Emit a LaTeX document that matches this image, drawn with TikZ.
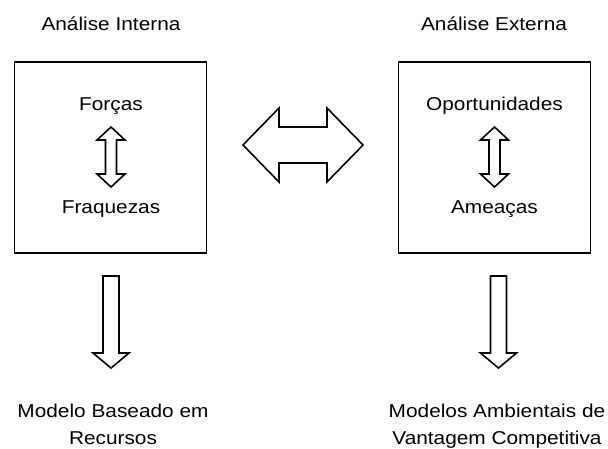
\documentclass[tikz,border=0pt]{standalone}
\usepackage{fontspec}
\setmainfont{Liberation Sans}[FakeStretch=1.12]
\usetikzlibrary{positioning}
\tikzset{
every node/.style={font=\fontsize{18.6}{27}\selectfont, inner sep=0pt}, % text size of all labels
box/.style={draw, line width=1.8pt, minimum width=192pt, minimum height=191pt}, % the two analysis boxes
lbl/.style={anchor=base, align=center}, % labels are placed by their (last) baseline
blockarrow/.style={draw, line width=1.6pt, line join=miter}, % hollow block arrows
}

\begin{document}
\begin{tikzpicture}[x=1pt, y=-1pt]
    \useasboundingbox (0,0) rectangle (608,448);

    \node[box] (interna) at (110.5,157.5) {};
    \node[box] (externa) at (494.5,157.5) {};

    \node[lbl] (tituloI) at (111,30) {Análise Interna};
    \node[lbl] (tituloE) at (494,30) {Análise Externa};

    \node[lbl] (forcas) at (111,110) {Forças};
    \node[lbl] (fraquezas) at (111,213.5) {Fraquezas};
    \node[lbl] (oportunidades) at (494.5,110) {Oportunidades};
    \node[lbl] (ameacas) at (494.5,213.5) {Ameaças};

    \node[lbl] (recursos) at (113,444) {Modelo Baseado em\\Recursos};
    \node[lbl] (ambientais) at (497,444) {Modelos Ambientais de\\Vantagem Competitiva};

    % double arrows inside the boxes
    \foreach \cx in {111,494.5} {
        \draw[blockarrow] (\cx,127) -- (\cx+14,140) -- (\cx+5.5,140) -- (\cx+5.5,174)
            -- (\cx+14,174) -- (\cx,187) -- (\cx-14,174) -- (\cx-5.5,174)
            -- (\cx-5.5,140) -- (\cx-14,140) -- cycle;
    }

    % big double arrow between the boxes
    \draw[blockarrow] (243,145) -- (279,108) -- (279,127) -- (327,127) -- (327,108)
        -- (363,145) -- (327,182) -- (327,163) -- (279,163) -- (279,182) -- cycle;

    % arrows down to the models
    \foreach \cx in {111,498.5} {
        \draw[blockarrow] (\cx-8,276) -- (\cx+8,276) -- (\cx+8,353) -- (\cx+18,353)
            -- (\cx,368) -- (\cx-18,353) -- (\cx-8,353) -- cycle;
    }
\end{tikzpicture}
\end{document}
